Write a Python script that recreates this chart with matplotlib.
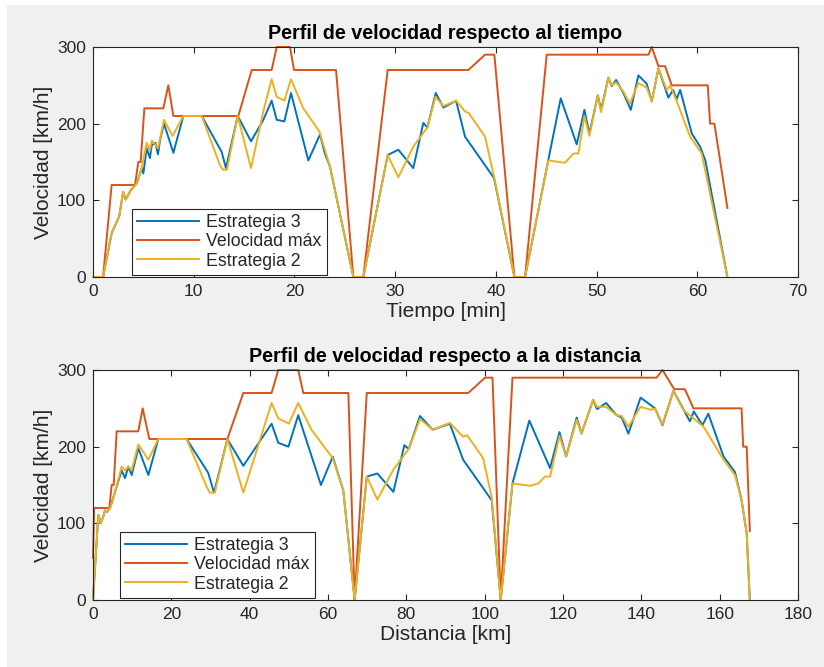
import matplotlib
matplotlib.use('Agg')
import matplotlib.pyplot as plt
from matplotlib.patches import Rectangle

# Datos: perfil respecto al tiempo [min]
t_max = [0, 1.0, 1.85, 4.17, 4.5, 4.73, 5.1, 6.98, 7.48, 7.98, 14.43, 15.76, 17.74, 18.24,
         19.56, 19.96, 24.13, 25.85, 26.84, 29.26, 37.27, 38.93, 39.85, 41.84, 42.9, 45.05,
         55.15, 55.48, 56.14, 56.8, 57.47, 61.04, 61.27, 61.7, 62.99]
v_max_t = [0, 0, 120, 120, 150, 150, 220, 220, 250, 210, 210, 270, 270, 300,
           300, 270, 270, 0, 0, 270, 270, 290, 290, 0, 0, 290,
           290, 300, 275, 275, 250, 250, 200, 200, 90]

t_e3 = [0, 1.0, 1.85, 2.6, 3.0, 3.24, 3.74, 4.34, 4.84, 5.0, 5.33, 5.65, 5.83, 6.2, 6.45,
        6.65, 7.05, 7.98, 8.97, 10.8, 12.78, 13.2, 14.37, 15.69, 16.91, 17.74, 18.24, 19.0,
        19.66, 21.38, 22.54, 23.0, 23.53, 25.85, 26.84, 29.26, 30.32, 31.8, 32.8, 33.2,
        34.03, 34.79, 36.05, 36.94, 39.82, 41.84, 42.9, 45.2, 46.44, 48.03, 48.79, 49.29,
        50.12, 50.45, 51.17, 51.5, 51.94, 52.66, 53.4, 54.15, 54.98, 55.48, 56.14, 57.13,
        57.6, 57.95, 58.3, 59.46, 60.28, 60.8, 62.99]
v_e3_t = [0, 0, 57, 79, 111, 101, 113, 122, 142, 135, 168, 155, 172, 175, 160,
          178, 200, 162, 210, 210, 163, 142, 210, 177, 205, 230, 205, 203,
          240, 152, 186, 162, 144, 0, 0, 159, 166, 142, 201, 195,
          240, 221, 230, 183, 129, 0, 0, 152, 233, 173, 218, 187,
          237, 218, 260, 249, 257, 240, 218, 263, 252, 229, 272, 234,
          244, 232, 244, 187, 170, 152, 0]

t_e2 = [0, 1.0, 1.85, 2.6, 3.0, 3.24, 3.74, 4.34, 4.84, 5.33, 5.65, 5.83, 6.2, 6.45, 6.65,
        7.05, 7.9, 8.97, 10.8, 12.6, 12.9, 13.3, 14.37, 15.69, 16.91, 17.74, 18.24, 19.0,
        19.66, 20.88, 22.47, 23.53, 25.85, 26.84, 29.26, 30.32, 31.8, 33.2, 34.0, 34.79,
        36.05, 36.94, 37.3, 38.93, 39.82, 41.84, 42.9, 45.2, 46.87, 47.7, 48.2, 48.79,
        49.29, 50.12, 50.45, 51.17, 51.5, 51.94, 52.66, 53.3, 54.15, 54.98, 55.48, 56.14,
        56.97, 57.3, 57.97, 59.29, 60.44, 62.99]
v_e2_t = [0, 0, 57, 79, 111, 101, 113, 122, 142, 175, 165, 178, 172, 168, 180,
          205, 184, 210, 210, 146, 140, 140, 210, 142, 216, 258, 235, 230,
          258, 220, 190, 144, 0, 0, 159, 130, 170, 195, 235, 223,
          230, 216, 214, 183, 131, 0, 0, 152, 149, 161, 161, 210,
          184, 237, 215, 260, 250, 254, 242, 226, 253, 247, 229, 272,
          244, 250, 229, 183, 161, 0]

# Datos: perfil respecto a la distancia [km]
d_max = [0, 0.3, 4.17, 4.77, 5.28, 6.04, 11.57, 12.68, 14.38, 34.3, 38.38, 45.6, 47.3,
         52.4, 53.7, 65.2, 66.8, 69.9, 95.8, 100.1, 102.0, 104.1, 107.1, 143.9, 145.4,
         148.4, 151.1, 152.0, 153.3, 165.6, 166.0, 166.9, 167.7]
v_max_d = [55, 120, 120, 150, 150, 220, 220, 250, 210, 210, 270, 270, 300,
           300, 270, 270, 0, 270, 270, 290, 290, 0, 290, 290, 300,
           275, 275, 265, 250, 250, 200, 200, 90]

d_e3 = [0, 1.36, 1.96, 2.64, 3.06, 3.66, 4.51, 5.62, 7.32, 8.17, 9.02, 9.87, 11.57, 14.13,
        16.68, 23.9, 29.4, 30.9, 34.3, 38.38, 45.6, 47.3, 49.9, 52.4, 58.2, 61.2, 63.9,
        66.8, 69.9, 72.6, 76.7, 79.5, 80.6, 83.5, 86.7, 91.1, 94.5, 101.8, 104.1, 107.1,
        111.4, 116.7, 119.1, 120.8, 123.5, 124.7, 127.7, 128.7, 131.0, 133.7, 135.0,
        136.7, 139.8, 143.5, 145.4, 148.2, 152.4, 153.4, 155.6, 157.1, 161.0, 163.9,
        165.6, 166.9, 167.7]
v_e3_d = [0, 111, 100, 109, 117, 115, 122, 141, 169, 159, 174, 163, 198, 163,
          210, 210, 166, 140, 210, 175, 230, 205, 200, 241, 150, 187, 143,
          0, 161, 165, 141, 202, 197, 240, 222, 230, 183, 130, 0, 152,
          234, 172, 219, 187, 238, 217, 261, 249, 257, 241, 238,
          217, 264, 250, 228, 273, 233, 246, 228, 243, 187, 167,
          130, 87, 0]

d_e2 = [0, 1.36, 1.96, 2.64, 3.06, 3.66, 4.51, 5.62, 7.32, 8.17, 9.02, 9.87, 11.57, 14.13,
        16.68, 23.9, 29.0, 29.8, 31.1, 34.3, 38.38, 45.6, 47.3, 50.0, 52.4, 55.8, 61.2,
        63.9, 66.8, 69.9, 72.6, 76.7, 80.6, 83.5, 86.7, 91.1, 94.5, 95.5, 99.6, 101.8,
        104.1, 107.1, 111.6, 113.7, 115.4, 116.7, 119.1, 120.8, 123.5, 124.7, 127.7,
        128.7, 131.0, 133.7, 135.0, 136.7, 139.8, 142.5, 143.5, 145.4, 148.2, 150.7,
        155.9, 161.0, 163.9, 165.6, 166.9, 167.7]
v_e2_d = [0, 111, 100, 109, 117, 115, 122, 141, 174, 169, 174, 169, 203, 183,
          210, 210, 148, 140, 140, 210, 140, 257, 237, 230, 257, 222, 185,
          143, 0, 161, 131, 170, 197, 236, 222, 231, 213, 215, 185, 134,
          0, 152, 149, 152, 161, 161, 214, 187, 235, 217, 261,
          252, 252, 241, 240, 226, 252, 248, 250, 229, 273, 248,
          226, 183, 163, 130, 87, 0]

# Colores por defecto de MATLAB
c_azul = '#0072BD'
c_rojo = '#D95319'
c_amar = '#EDB120'
c_txt = '#262626'

plt.rcParams['font.family'] = ['Liberation Sans', 'DejaVu Sans']

fig = plt.figure(figsize=(8.24, 6.67), dpi=100, facecolor='#F0F0F0')
# borde blanco de la captura
fig.patches.append(Rectangle((0, 0), 7 / 824, 1, transform=fig.transFigure,
                             facecolor='white', edgecolor='none', zorder=-1))
fig.patches.append(Rectangle((0, 1 - 5 / 667), 1, 5 / 667, transform=fig.transFigure,
                             facecolor='white', edgecolor='none', zorder=-1))

ax1 = fig.add_axes([93 / 824, 1 - 277 / 667, 705 / 824, 230 / 667])
ax2 = fig.add_axes([93 / 824, 1 - 600 / 667, 705 / 824, 230 / 667])


def estilo(ax, xmax, xstep, xlabel, titulo):
    ax.set_xlim(0, xmax)
    ax.set_ylim(0, 300)
    ax.set_xticks(range(0, xmax + 1, xstep))
    ax.set_yticks([0, 100, 200, 300])
    ax.tick_params(direction='in', top=True, right=True, length=4, width=0.8,
                   labelsize=12.5, colors=c_txt, pad=5)
    for s in ax.spines.values():
        s.set_color(c_txt)
        s.set_linewidth(0.8)
    ax.set_xlabel(xlabel, fontsize=15, color=c_txt, labelpad=2)
    ax.set_ylabel('Velocidad [km/h]', fontsize=15, color=c_txt, labelpad=3)
    ax.set_title(titulo, fontsize=14.2, fontweight='bold', color='black', pad=6)
    leg = ax.legend(loc='lower left', bbox_to_anchor=(0.055, 0.009), fontsize=12.8,
                    frameon=True, fancybox=False, framealpha=1, edgecolor=c_txt,
                    handlelength=3.5, handletextpad=0.4, labelspacing=0.12,
                    borderpad=0.3, borderaxespad=0)
    leg.get_frame().set_linewidth(0.8)
    for txt in leg.get_texts():
        txt.set_color(c_txt)


lw = 1.4
ax1.plot(t_e3, v_e3_t, color=c_azul, lw=lw, label='Estrategia 3', clip_on=False)
ax1.plot(t_max, v_max_t, color=c_rojo, lw=lw, label='Velocidad máx', clip_on=False)
ax1.plot(t_e2, v_e2_t, color=c_amar, lw=lw, label='Estrategia 2', clip_on=False)
estilo(ax1, 70, 10, 'Tiempo [min]', 'Perfil de velocidad respecto al tiempo')

ax2.plot(d_e3, v_e3_d, color=c_azul, lw=lw, label='Estrategia 3', clip_on=False)
ax2.plot(d_max, v_max_d, color=c_rojo, lw=lw, label='Velocidad máx', clip_on=False)
ax2.plot(d_e2, v_e2_d, color=c_amar, lw=lw, label='Estrategia 2', clip_on=False)
estilo(ax2, 180, 20, 'Distancia [km]', 'Perfil de velocidad respecto a la distancia')
# la leyenda inferior está algo más a la izquierda
ax2.get_legend().set_bbox_to_anchor((0.038, 0.009))

fig.savefig('out.png', dpi=100, facecolor=fig.get_facecolor())
